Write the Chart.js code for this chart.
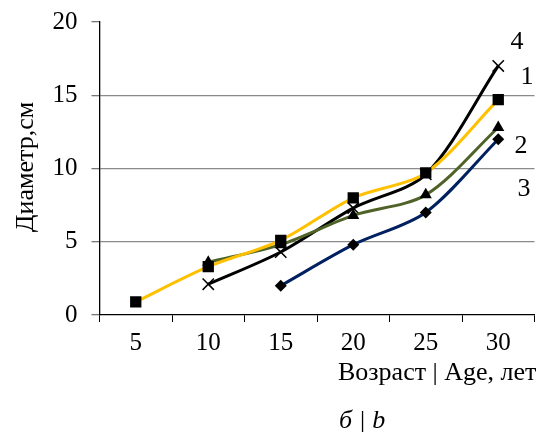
<!DOCTYPE html>
<html>
<head>
<meta charset="utf-8">
<script src="https://cdn.jsdelivr.net/npm/chart.js@4/dist/chart.umd.min.js"></script>
<style>
  html, body { margin: 0; padding: 0; background: #fff; }
  #wrap { width: 544px; height: 432px; }
</style>
</head>
<body>
<div id="wrap"><canvas id="chart"></canvas></div>
<script>
  // categories (age, years)
  const ages = ['5', '10', '15', '20', '25', '30'];

  // diameter, cm  (null = no measurement)
  const series1 = [0.9, 3.3, 5.1, 8.0, 9.7, 14.7];
  const series2 = [null, 3.6, 4.8, 6.8, 8.2, 12.8];
  const series3 = [null, null, 2.0, 4.8, 7.0, 12.0];
  const series4 = [null, 2.1, 4.3, 7.3, 9.6, 17.0];

  const yTicks = [0, 5, 10, 15, 20];
  const curveNames = ['4', '1', '2', '3'];

  const serif = '"Liberation Serif", "DejaVu Serif", serif';

  /* ── Text outside the plot: axis titles, caption, curve numbers ── */
  const textPlugin = {
    id: 'texts',
    afterDraw(chart) {
      const ctx = chart.ctx;
      ctx.save();
      ctx.fillStyle = '#000';
      ctx.font = '26px ' + serif;
      ctx.textBaseline = 'middle';

      // y title
      ctx.save();
      ctx.translate(26, 167);
      ctx.rotate(-Math.PI / 2);
      ctx.textAlign = 'center';
      ctx.fillText('Диаметр,см', 0, 0);
      ctx.restore();

      // x title
      ctx.textAlign = 'left';
      ctx.fillText('Возраст | Age, лет', 338, 373);

      // caption
      ctx.font = 'italic 26px ' + serif;
      ctx.fillText('б | b', 339, 421);

      // curve numbers
      ctx.font = '26px ' + serif;
      ctx.textAlign = 'center';
      const pos = [[517, 42], [527, 77], [521, 146], [524, 189]];
      curveNames.forEach((n, i) => ctx.fillText(n, pos[i][0], pos[i][1]));
      ctx.restore();
    }
  };

  const ctx = document.getElementById('chart').getContext('2d');
  new Chart(ctx, {
    type: 'line',
    data: {
      labels: ages,
      datasets: [
        {
          label: '1', data: series1,
          borderColor: '#FFC000', borderWidth: 3,
          pointStyle: 'rect', pointRadius: 8,
          pointBackgroundColor: '#000', pointBorderColor: '#000', pointBorderWidth: 0
        },
        {
          label: '2', data: series2,
          borderColor: '#4F6228', borderWidth: 3,
          pointStyle: 'triangle', pointRadius: 7,
          pointBackgroundColor: '#000', pointBorderColor: '#000', pointBorderWidth: 0
        },
        {
          label: '3', data: series3,
          borderColor: '#002060', borderWidth: 3,
          pointStyle: 'rectRot', pointRadius: 6,
          pointBackgroundColor: '#000', pointBorderColor: '#000', pointBorderWidth: 0
        },
        {
          label: '4', data: series4,
          borderColor: '#000', borderWidth: 3,
          pointStyle: 'crossRot', pointRadius: 8,
          pointBackgroundColor: '#000', pointBorderColor: '#000', pointBorderWidth: 1.5
        }
      ]
    },
    options: {
      responsive: true,
      maintainAspectRatio: false,
      animation: false,
      layout: { padding: { top: 22, right: 9, left: 0, bottom: 0 } },
      elements: { line: { tension: 0.3 } },
      plugins: {
        legend: { display: false },
        tooltip: { enabled: false }
      },
      scales: {
        x: {
          offset: true,
          ticks: { color: '#000', font: { size: 25, family: serif }, padding: 6, maxRotation: 0 },
          grid: { offset: true, drawOnChartArea: false, color: '#000', tickLength: 7, tickColor: '#000' },
          border: { color: '#000', width: 1.3 },
          afterFit: s => { s.height = 117; s.paddingLeft = 0; s.paddingRight = 0; }
        },
        y: {
          min: 0, max: 20,
          afterBuildTicks: s => { s.ticks = yTicks.map(v => ({ value: v })); },
          ticks: { color: '#000', font: { size: 25, family: serif }, padding: 14 },
          grid: {
            color: c => (c.tick.value === 0 || c.tick.value === 20) ? 'rgba(0,0,0,0)' : '#8a8a8a',
            tickColor: '#777',
            tickLength: 8,
            lineWidth: 1.3
          },
          border: { color: '#000', width: 1.3 },
          afterFit: s => { s.width = 99.5; s.paddingTop = 0; s.paddingBottom = 0; }
        }
      }
    },
    plugins: [textPlugin]
  });
</script>
</body>
</html>
